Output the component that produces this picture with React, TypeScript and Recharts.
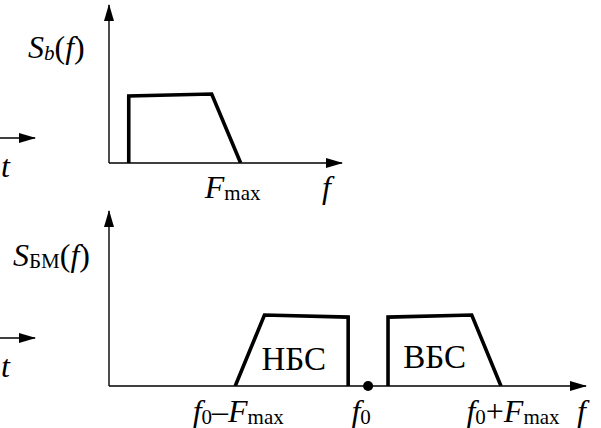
import React from 'react';
import { LineChart, Line, XAxis, YAxis, ReferenceDot } from 'recharts';

// Frequencies are in units of F_max, spectrum levels relative to the flat top.
const FMAX = 1;
const F0 = 2;

// baseband spectrum S_b(f)
const basebandF = [0.15, 0.15, 0.78, 1.0];
const basebandS = [0, 1.0, 1.03, 0];

// lower sideband (НБС) and upper sideband (ВБС) around the carrier f0
const lowerBandF = [1.0, 1.22, 1.85, 1.85];
const lowerBandS = [0, 1.03, 1.0, 0];
const upperBandF = [2.15, 2.15, 2.78, 3.0];
const upperBandS = [0, 1.0, 1.03, 0];

const topTicks = [FMAX];
const bottomTicks = [F0 - FMAX, F0, F0 + FMAX];

type Run = { t: string; italic?: boolean; sub?: boolean };

const topTickLabels: Run[][] = [[{ t: 'F', italic: true }, { t: 'max', sub: true }]];
const bottomTickLabels: Run[][] = [
  [{ t: 'f', italic: true }, { t: '0', sub: true }, { t: '–' }, { t: 'F', italic: true }, { t: 'max', sub: true }],
  [{ t: 'f', italic: true }, { t: '0', sub: true }],
  [{ t: 'f', italic: true }, { t: '0', sub: true }, { t: '+' }, { t: 'F', italic: true }, { t: 'max', sub: true }],
];
const freqName: Run[] = [{ t: 'f', italic: true }];
const timeName: Run[] = [{ t: 't', italic: true }];
const topTitle: Run[] = [{ t: 'S', italic: true }, { t: 'b', italic: true, sub: true }, { t: '(' }, { t: 'f', italic: true }, { t: ')' }];
const bottomTitle: Run[] = [{ t: 'S', italic: true }, { t: 'БМ', sub: true }, { t: '(' }, { t: 'f', italic: true }, { t: ')' }];

const bandNames = ['НБС', 'ВБС'];
const bandNameF = [1.44, 2.5];
const bandNameS = [0.23, 0.26];

const FONT = "'Liberation Serif', 'Times New Roman', serif";
const MAIN_SIZE = 32;
const SUB_SIZE = 21;
const SUB_DROP = 2;
const INK = '#000';

const toPoints = (f: number[], s: number[]) => f.map((v, i) => ({ f: v, s: s[i] }));

const RichText = ({ x, y, runs, anchor = 'start' }: { x: number; y: number; runs: Run[]; anchor?: string }) => {
  let shift = 0;
  return (
    <text x={x} y={y} textAnchor={anchor} fontFamily={FONT} fontSize={MAIN_SIZE} fill={INK}>
      {runs.map((r, i) => {
        const drop = r.sub ? SUB_DROP : 0;
        const dy = drop - shift;
        shift = drop;
        return (
          <tspan key={i} dy={dy} fontStyle={r.italic ? 'italic' : 'normal'} fontSize={r.sub ? SUB_SIZE : MAIN_SIZE}>
            {r.t}
          </tspan>
        );
      })}
    </text>
  );
};

const arrowLine = (end: 'start' | 'end') => ({
  stroke: INK,
  strokeWidth: 1.4,
  [end === 'end' ? 'markerEnd' : 'markerStart']: 'url(#axis-arrow)',
  style: end === 'end' ? { markerEnd: 'url(#axis-arrow)' } : { markerStart: 'url(#axis-arrow)' },
});

const box = (p: any) => p?.viewBox ?? { x: 0, y: 0, width: 0, height: 0 };

const makeTick = (ticks: number[], labels: Run[][], nudge: number[], drop: number) => (props: any) => {
  const i = ticks.indexOf(props.payload?.value);
  if (i < 0) return null;
  return <RichText x={props.x + nudge[i]} y={props.y + drop} runs={labels[i]} anchor="middle" />;
};

const bandLine = (data: { f: number; s: number }[], key: string) => (
  <Line
    key={key}
    data={data}
    dataKey="s"
    type="linear"
    stroke={INK}
    strokeWidth={3.6}
    dot={false}
    activeDot={false}
    isAnimationActive={false}
  />
);

// short time axis stub at the left edge
const TimeStub = ({ top }: { top: number }) => (
  <div style={{ position: 'absolute', left: 0, top }}>
    <LineChart width={50} height={80} data={[{ f: 0 }, { f: 1 }]} margin={{ top: 30, right: 15, left: 0, bottom: 0 }}>
      <XAxis
        dataKey="f"
        type="number"
        domain={[0, 1]}
        height={50}
        tick={false}
        tickLine={false}
        axisLine={arrowLine('end')}
        label={(p: any) => <RichText x={box(p).x + 1} y={box(p).y + 39} runs={timeName} />}
      />
      <YAxis hide domain={[0, 1]} />
    </LineChart>
  </div>
);

const BasebandChart = () => (
  <div style={{ position: 'absolute', left: 0, top: 0 }}>
    <LineChart width={601} height={215} margin={{ top: 5, right: 259, left: 0, bottom: 12 }}>
      <XAxis
        dataKey="f"
        type="number"
        domain={[0, 1.77]}
        allowDataOverflow
        ticks={topTicks}
        interval={0}
        height={40}
        tickSize={0}
        tickMargin={0}
        tickLine={false}
        tick={makeTick(topTicks, topTickLabels, [-8], 35)}
        axisLine={arrowLine('end')}
        label={(p: any) => <RichText x={box(p).x + box(p).width - 20} y={box(p).y + 35} runs={freqName} />}
      />
      <YAxis
        type="number"
        domain={[0, 2.36]}
        allowDataOverflow
        width={109}
        tick={false}
        tickLine={false}
        axisLine={arrowLine('start')}
        label={(p: any) => <RichText x={28} y={box(p).y + 53} runs={topTitle} />}
      />
      {bandLine(toPoints(basebandF, basebandS), 'baseband')}
    </LineChart>
  </div>
);

const ModulatedChart = () => (
  <div style={{ position: 'absolute', left: 0, top: 200 }}>
    <LineChart width={601} height={228} margin={{ top: 11, right: 15, left: 0, bottom: 2 }}>
      <XAxis
        dataKey="f"
        type="number"
        domain={[0.05, 3.64]}
        allowDataOverflow
        ticks={bottomTicks}
        interval={0}
        height={40}
        tickSize={0}
        tickMargin={0}
        tickLine={false}
        tick={makeTick(bottomTicks, bottomTickLabels, [3, -7, 12], 36)}
        axisLine={arrowLine('end')}
        label={(p: any) => <RichText x={box(p).x + box(p).width - 9} y={box(p).y + 36} runs={freqName} />}
      />
      <YAxis
        type="number"
        domain={[0, 2.54]}
        allowDataOverflow
        width={109}
        tick={false}
        tickLine={false}
        axisLine={arrowLine('start')}
        label={(p: any) => <RichText x={13} y={box(p).y + 55} runs={bottomTitle} />}
      />
      {bandLine(toPoints(lowerBandF, lowerBandS), 'lower')}
      {bandLine(toPoints(upperBandF, upperBandS), 'upper')}
      <ReferenceDot x={F0} y={0} r={5} fill={INK} stroke="none" ifOverflow="visible" />
      {bandNames.map((name, i) => (
        <ReferenceDot
          key={name}
          x={bandNameF[i]}
          y={bandNameS[i]}
          r={1}
          fill="none"
          stroke="none"
          label={(p: any) => {
            const v = box(p);
            return (
              <text x={v.x + v.width / 2} y={v.y + v.height / 2} textAnchor="middle" fontFamily={FONT} fontSize={33} fill={INK}>
                {name}
              </text>
            );
          }}
        />
      ))}
    </LineChart>
  </div>
);

export default function App() {
  return (
    <div style={{ position: 'absolute', left: 0, top: 0, width: 601, height: 428, background: '#fff', overflow: 'hidden' }}>
      <svg width={0} height={0} style={{ position: 'absolute' }}>
        <defs>
          <marker
            id="axis-arrow"
            viewBox="0 0 17 10"
            refX={16}
            refY={5}
            markerWidth={17}
            markerHeight={10}
            markerUnits="userSpaceOnUse"
            orient="auto-start-reverse"
          >
            <path d="M0,0 L17,5 L0,10 z" fill={INK} />
          </marker>
        </defs>
      </svg>
      <TimeStub top={108} />
      <TimeStub top={308} />
      <BasebandChart />
      <ModulatedChart />
    </div>
  );
}
